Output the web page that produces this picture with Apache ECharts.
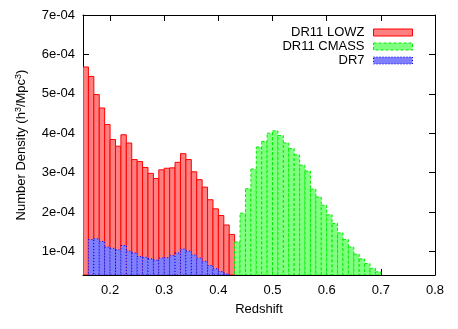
<!DOCTYPE html>
<html>
<head>
<meta charset="utf-8">
<script src="https://cdn.jsdelivr.net/npm/echarts@6/dist/echarts.min.js"></script>
<style>
  html, body { margin: 0; padding: 0; background: #fff; }
  #chart { width: 458px; height: 329px; }
</style>
</head>
<body>
<div id="chart"></div>
<script>
// bin lower edges (redshift), bins are 0.01 wide
const lowzZ = [0.15, 0.16, 0.17, 0.18, 0.19, 0.20, 0.21, 0.22, 0.23, 0.24, 0.25, 0.26, 0.27, 0.28,
  0.29, 0.30, 0.31, 0.32, 0.33, 0.34, 0.35, 0.36, 0.37, 0.38, 0.39, 0.40, 0.41, 0.42]
const cmassZ = [0.43, 0.44, 0.45, 0.46, 0.47, 0.48, 0.49, 0.50, 0.51, 0.52, 0.53, 0.54, 0.55, 0.56,
  0.57, 0.58, 0.59, 0.60, 0.61, 0.62, 0.63, 0.64, 0.65, 0.66, 0.67, 0.68, 0.69]
const binWidth = 0.01

// number density, h^3/Mpc^3
const lowzDensity = [5.68e-4, 5.44e-4, 4.98e-4, 4.64e-4, 4.22e-4, 3.84e-4, 3.67e-4, 3.96e-4, 3.75e-4, 3.33e-4,
  3.28e-4, 3.13e-4, 2.98e-4, 2.85e-4, 3.07e-4, 3.11e-4, 3.12e-4, 3.26e-4, 3.48e-4, 3.33e-4,
  3.02e-4, 2.82e-4, 2.63e-4, 2.31e-4, 2.08e-4, 1.91e-4, 1.67e-4, 1.43e-4]
const cmassDensity = [1.24e-4, 1.97e-4, 2.59e-4, 3.09e-4, 3.65e-4, 3.79e-4, 4.00e-4, 4.06e-4, 3.94e-4, 3.75e-4,
  3.61e-4, 3.45e-4, 3.19e-4, 3.04e-4, 2.58e-4, 2.38e-4, 2.17e-4, 1.93e-4, 1.71e-4, 1.47e-4,
  1.30e-4, 1.11e-4, 0.93e-4, 0.81e-4, 0.69e-4, 0.57e-4, 0.48e-4]
const dr7Density = [null, 1.30e-4, 1.32e-4, 1.25e-4, 1.11e-4, 1.08e-4, 1.04e-4, 1.15e-4, 1.01e-4, 0.96e-4,
  0.87e-4, 0.85e-4, 0.81e-4, 0.78e-4, 0.83e-4, 0.84e-4, 0.90e-4, 0.96e-4, 1.06e-4, 1.01e-4,
  0.91e-4, 0.83e-4, 0.75e-4, 0.64e-4, 0.56e-4, 0.49e-4, 0.43e-4, null]

const xTicks = [0.2, 0.3, 0.4, 0.5, 0.6, 0.7, 0.8]
const yTicks = [1e-4, 2e-4, 3e-4, 4e-4, 5e-4, 6e-4, 7e-4]
const X_MIN = 0.15, X_MAX = 0.8
const Y_MIN = 4e-5, Y_MAX = 7e-4

const FONT = 'Liberation Sans'

const styles = {
  'DR11 LOWZ': { fill: '#ff8080', stroke: '#ff0000', lineDash: null },
  'DR11 CMASS': { fill: '#80ff80', stroke: '#00ee00', lineDash: [3, 2] },
  'DR7': { fill: '#8080ff', stroke: '#0000ee', lineDash: [1, 2] }
}

function pairs(zs, vals) {
  const out = []
  zs.forEach((z, i) => { if (vals[i] != null) out.push([z, vals[i]]) })
  return out
}

function histSeries(name, data) {
  const st = styles[name]
  return {
    name,
    type: 'custom',
    clip: true,
    data,
    itemStyle: { color: st.fill },
    renderItem(params, api) {
      const lo = api.value(0)
      const top = api.coord([lo, api.value(1)])
      const bot = api.coord([lo + binWidth, Y_MIN])
      return {
        type: 'rect',
        shape: { x: top[0], y: top[1], width: bot[0] - top[0], height: bot[1] - top[1] },
        style: { fill: st.fill, stroke: st.stroke, lineWidth: 1, lineDash: st.lineDash }
      }
    }
  }
}

const fmtY = v => Math.round(v * 1e4) + 'e-04'

const chart = echarts.init(document.getElementById('chart'), null, { renderer: 'canvas' })
chart.setOption({
  animation: false,
  textStyle: { fontFamily: FONT, color: '#000' },
  grid: { left: 83, right: 23, top: 15, bottom: 54 },
  legend: {
    orient: 'vertical',
    align: 'right',
    right: 40,
    top: 21,
    itemWidth: 39,
    itemHeight: 7,
    itemGap: 1,
    textStyle: { fontFamily: FONT, fontSize: 13, color: '#000', lineHeight: 12, padding: [0, 4, 0, 0] },
    data: Object.keys(styles).map(n => ({
      name: n,
      icon: 'rect',
      itemStyle: {
        color: styles[n].fill,
        borderColor: styles[n].stroke,
        borderWidth: 1,
        borderType: styles[n].lineDash || 'solid'
      }
    }))
  },
  xAxis: [{
    type: 'value',
    min: X_MIN,
    max: X_MAX,
    name: 'Redshift',
    nameLocation: 'middle',
    nameGap: 28,
    nameTextStyle: { fontFamily: FONT, fontSize: 13, color: '#000' },
    axisLine: { lineStyle: { color: '#000', width: 1 } },
    axisTick: { inside: true, length: 6, customValues: xTicks, lineStyle: { color: '#000' } },
    axisLabel: { customValues: xTicks, margin: 9, fontFamily: FONT, fontSize: 13, color: '#000',
      formatter: v => v.toFixed(1) },
    splitLine: { show: false }
  }, {
    type: 'value',
    position: 'top',
    min: X_MIN,
    max: X_MAX,
    axisLine: { show: true, lineStyle: { color: '#000', width: 1 } },
    axisTick: { inside: true, length: 6, customValues: xTicks, lineStyle: { color: '#000' } },
    axisLabel: { show: false },
    splitLine: { show: false }
  }],
  yAxis: [{
    type: 'value',
    min: Y_MIN,
    max: Y_MAX,
    name: 'Number Density (h{sup|3}/Mpc{sup|3})',
    nameLocation: 'middle',
    nameGap: 54,
    nameTextStyle: {
      fontFamily: FONT, fontSize: 13, color: '#000',
      rich: { sup: { fontFamily: FONT, fontSize: 9, color: '#000', verticalAlign: 'top', padding: [0, 0, 6, 0] } }
    },
    axisLine: { show: true, lineStyle: { color: '#000', width: 1 } },
    axisTick: { show: true, inside: true, length: 6, customValues: yTicks, lineStyle: { color: '#000' } },
    axisLabel: { customValues: yTicks, margin: 8, fontFamily: FONT, fontSize: 13, color: '#000', formatter: fmtY },
    splitLine: { show: false }
  }, {
    type: 'value',
    position: 'right',
    min: Y_MIN,
    max: Y_MAX,
    axisLine: { show: true, lineStyle: { color: '#000', width: 1 } },
    axisTick: { show: true, inside: true, length: 6, customValues: yTicks, lineStyle: { color: '#000' } },
    axisLabel: { show: false },
    splitLine: { show: false }
  }],
  series: [
    histSeries('DR11 LOWZ', pairs(lowzZ, lowzDensity)),
    histSeries('DR11 CMASS', pairs(cmassZ, cmassDensity)),
    histSeries('DR7', pairs(lowzZ, dr7Density))
  ]
})
window.addEventListener('resize', () => chart.resize())
</script>
</body>
</html>
